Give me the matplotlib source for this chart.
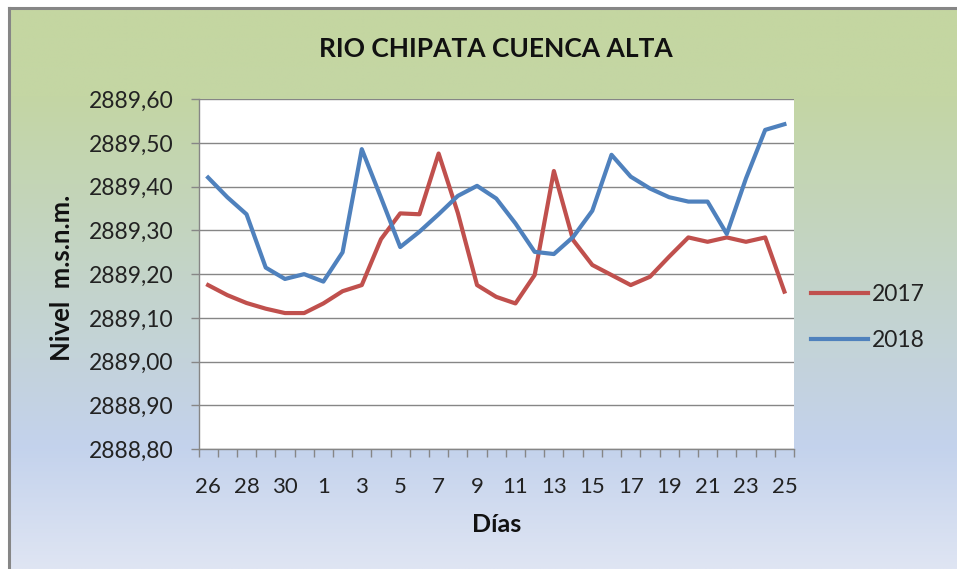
import matplotlib
matplotlib.use("Agg")
import matplotlib.pyplot as plt
import numpy as np
from matplotlib.ticker import FuncFormatter, FixedLocator

days = [26, 27, 28, 29, 30, 31] + list(range(1, 26))
nivel_2017 = [2889.175, 2889.152, 2889.134, 2889.121, 2889.111, 2889.111, 2889.133,
              2889.161, 2889.175, 2889.280, 2889.339, 2889.337, 2889.476, 2889.340,
              2889.175, 2889.148, 2889.133, 2889.198, 2889.436, 2889.278, 2889.221,
              2889.198, 2889.175, 2889.194, 2889.240, 2889.284, 2889.274, 2889.284,
              2889.274, 2889.284, 2889.160]
nivel_2018 = [2889.421, 2889.376, 2889.337, 2889.215, 2889.189, 2889.200, 2889.183,
              2889.250, 2889.486, 2889.375, 2889.262, 2889.297, 2889.337, 2889.379,
              2889.402, 2889.373, 2889.316, 2889.251, 2889.246, 2889.285, 2889.345,
              2889.473, 2889.423, 2889.396, 2889.376, 2889.366, 2889.366, 2889.292,
              2889.419, 2889.530, 2889.543]
series_names = ["2017", "2018"]
title = "RIO CHIPATA CUENCA ALTA"
xlabel = "Días"
ylabel = "Nivel  m.s.n.m."
y_ticks = [2888.80, 2888.90, 2889.00, 2889.10, 2889.20, 2889.30, 2889.40, 2889.50, 2889.60]

W, H = 957, 569
plt.rcParams['font.family'] = ['Lato', 'DejaVu Sans']
fig = plt.figure(figsize=(W / 100, H / 100), dpi=100, facecolor='white')

# background gradient panel
bg = fig.add_axes([8 / W, 0, 1 - 8 / W, (H - 7) / H], zorder=-10)
bg.set_axis_off()
stops_y = np.array([0.0, 0.16, 0.78, 1.0])
stops_c = np.array([[196, 214, 161], [196, 214, 164], [195, 210, 236], [223, 229, 243]]) / 255.0
t = np.linspace(0, 1, 400)
grad = np.stack([np.interp(t, stops_y, stops_c[:, k]) for k in range(3)], axis=-1)
grad = np.repeat(grad[:, None, :], 4, axis=1)
bg.imshow(grad, aspect='auto', extent=[0, 1, 0, 1], origin='upper')
bg.set_xlim(0, 1)
bg.set_ylim(0, 1)
fig.add_artist(plt.Line2D([8.5 / W, 8.5 / W], [0, 1 - 7.5 / H], transform=fig.transFigure,
                          color='#868686', lw=2.2))
fig.add_artist(plt.Line2D([8.5 / W, 1], [1 - 7.5 / H, 1 - 7.5 / H], transform=fig.transFigure,
                          color='#868686', lw=2.2))

left, right = 198.5 / W, 794 / W
bottom, top = 1 - 449 / H, 1 - 99.3 / H
ax = fig.add_axes([left, bottom, right - left, top - bottom])
ax.set_facecolor('white')

x = np.arange(len(days))
ax.plot(x, nivel_2017, color='#C0504D', lw=3.0, label=series_names[0], solid_joinstyle='round', zorder=3)
ax.plot(x, nivel_2018, color='#4F81BD', lw=3.0, label=series_names[1], solid_joinstyle='round', zorder=3)

ax.set_xlim(-0.5, len(days) - 0.5)
ax.set_ylim(2888.80, 2889.60)
ax.set_yticks(y_ticks)
ax.yaxis.set_major_formatter(FuncFormatter(lambda v, p: f"{v:.2f}".replace('.', ',')))
ax.yaxis.grid(True, color='#868686', lw=1.0)
ax.set_axisbelow(True)

ax.set_xticks(x[::2])
ax.set_xticklabels([str(d) for d in days[::2]])
ax.xaxis.set_minor_locator(FixedLocator(np.arange(-0.5, len(days), 1.0)))
ax.tick_params(axis='x', which='major', length=0, pad=20, labelsize=16, colors='#222222')
ax.tick_params(axis='x', which='minor', length=5.5, color='#868686', width=1)
ax.tick_params(axis='y', which='major', length=6, color='#868686', width=1, pad=12,
               labelsize=16.5, labelcolor='#222222')

for s in ['top', 'right']:
    ax.spines[s].set_visible(False)
for s in ['left', 'bottom']:
    ax.spines[s].set_color('#868686')
    ax.spines[s].set_linewidth(1.0)

fig.text(495.5 / W, 1 - 49 / H, title, ha='center', va='center', fontsize=19,
         fontweight='bold', color='#111111')
fig.text(497 / W, 1 - 525 / H, xlabel, ha='center', va='center', fontsize=18,
         fontweight='bold', color='#111111')
fig.text(62 / W, 1 - 278 / H, ylabel, ha='center', va='center', rotation=90, fontsize=18.5,
         fontweight='bold', color='#111111')

fig.legend(loc='upper left', bbox_to_anchor=(811 / W, 1 - 284 / H), frameon=False,
           fontsize=16.5, handlelength=2.5, handletextpad=0.15, labelspacing=1.1,
           borderpad=0, borderaxespad=0, labelcolor='#222222')

fig.savefig('out.png', dpi=100, facecolor='white')
